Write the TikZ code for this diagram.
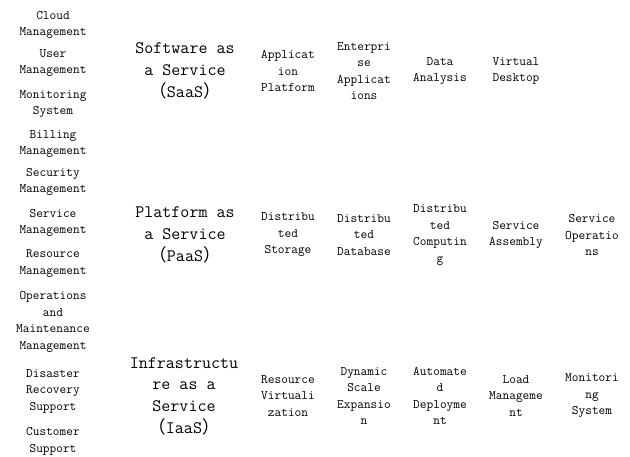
\documentclass[tikz,border=0pt]{standalone}
\usepackage{fontspec}
\newfontfamily\cjkfont{Noto Sans CJK SC}
\newcommand{\fwl}{{\cjkfont （}}
\newcommand{\fwr}{{\cjkfont ）}}
\tikzset{
  item/.style={inner sep=0pt, align=center, font=\fontsize{13}{16.5}\selectfont\ttfamily},
  layer/.style={inner sep=0pt, align=center, font=\fontsize{17.5}{21.7}\selectfont\ttfamily}
}
\begin{document}
\begin{tikzpicture}[x=1pt,y=-1pt]
\useasboundingbox (0,0) rectangle (630,457);
% left column
\node[item] (cm) at (53,25) {Cloud\\Management};
\node[item] (um) at (53,63) {User\\Management};
\node[item] (ms) at (53,104) {Monitoring\\System};
\node[item] (bm) at (53,144) {Billing\\Management};
\node[item] (sm) at (53,182) {Security\\Management};
\node[item] (svm) at (53,223) {Service\\Management};
\node[item] (rm) at (53,263.5) {Resource\\Management};
\node[item] (om) at (53,322) {Operations\\and\\Maintenance\\Management};
\node[item] (dr) at (53,391) {Disaster\\Recovery\\Support};
\node[item] (cs) at (53,441.5) {Customer\\Support};
% layers
\node[layer] (saas) at (185,71) {Software as\\a Service\\\fwl SaaS\fwr};
\node[layer] (paas) at (185,235) {Platform as\\a Service\\\fwl PaaS\fwr};
\node[layer] (iaas) at (184,396) {Infrastructu\\re as a\\Service\\\fwl IaaS\fwr};
% SaaS row
\node[item] (s1) at (288,71) {Applicat\\ion\\Platform};
\node[item] (s2) at (364,71) {Enterpri\\se\\Applicat\\ions};
\node[item] (s3) at (440,71) {Data\\Analysis};
\node[item] (s4) at (516,71) {Virtual\\Desktop};
% PaaS row
\node[item] (p1) at (288,235) {Distribu\\ted\\Storage};
\node[item] (p2) at (364,235) {Distribu\\ted\\Database};
\node[item] (p3) at (440,235) {Distribu\\ted\\Computin\\g};
\node[item] (p4) at (516,235) {Service\\Assembly};
\node[item] (p5) at (592,235) {Service\\Operatio\\ns};
% IaaS row
\node[item] (i1) at (288,396) {Resource\\Virtuali\\zation};
\node[item] (i2) at (364,396) {Dynamic\\Scale\\Expansio\\n};
\node[item] (i3) at (440,396) {Automate\\d\\Deployme\\nt};
\node[item] (i4) at (516,396) {Load\\Manageme\\nt};
\node[item] (i5) at (592,396) {Monitori\\ng\\System};
\end{tikzpicture}
\end{document}
